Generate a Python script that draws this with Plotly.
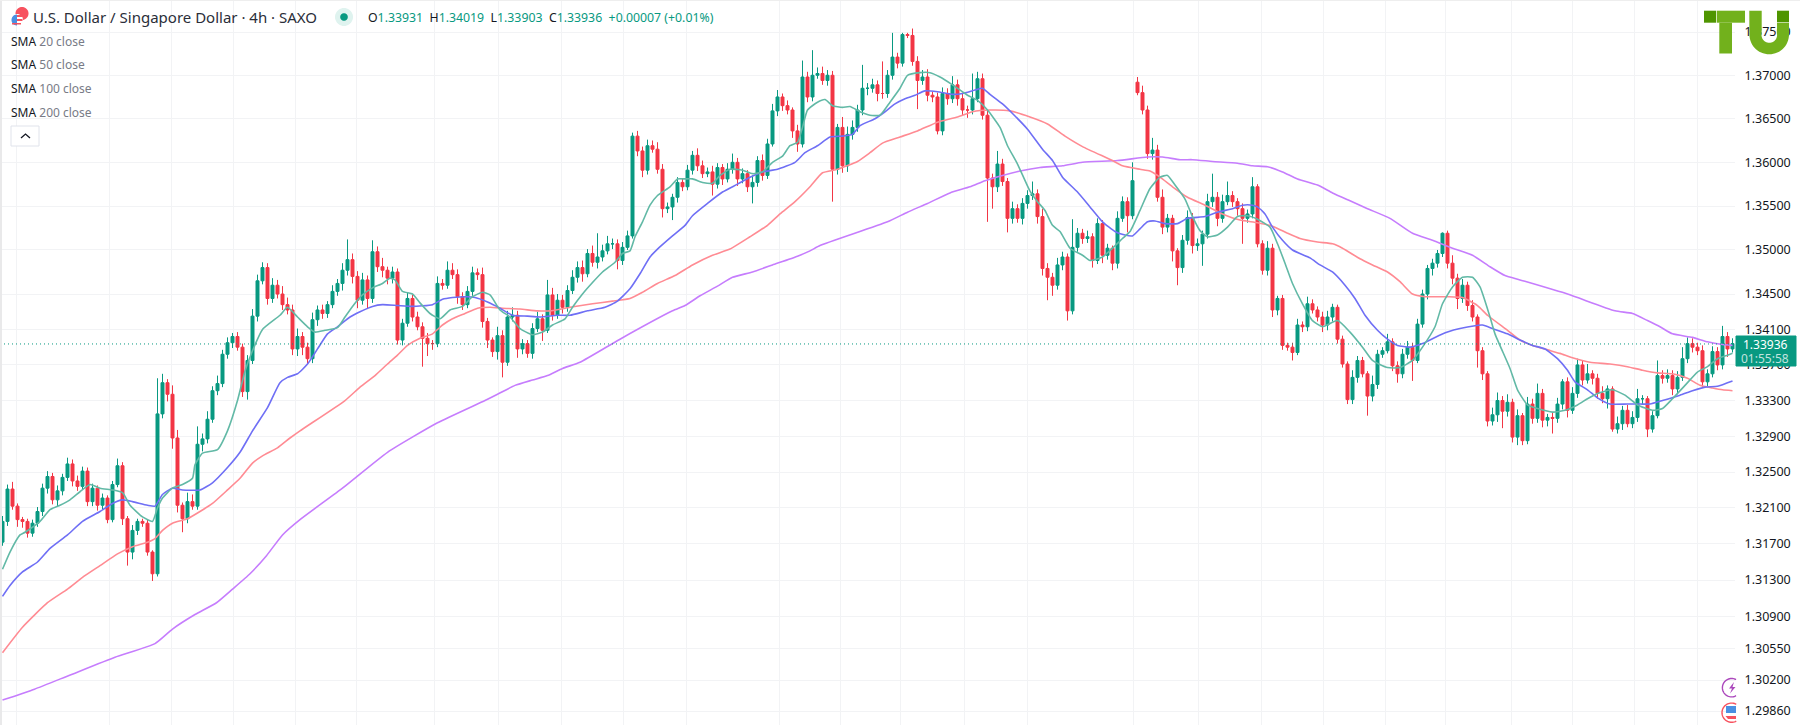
import plotly.graph_objects as go
import math

W, H, MR = 1800, 725, 65

# Closing prices, in 1/10000 price units
closes = [
13195,13231,13212,13197,13195,13182,13193,13206,13232,13245,
13219,13229,13244,13259,13240,13234,13251,13217,13232,13213,
13221,13197,13236,13257,13198,13161,13185,13195,13193,13161,
13137,13315,13350,13337,13288,13213,13198,13217,13212,13281,
13287,13309,13341,13349,13382,13395,13402,13390,13340,13375,
13425,13465,13480,13445,13460,13450,13438,13432,13388,13402,
13390,13377,13421,13432,13428,13438,13453,13462,13477,13489,
13470,13443,13466,13445,13498,13481,13477,13468,13475,13398,
13417,13445,13424,13413,13400,13394,13394,13462,13460,13477,
13472,13447,13438,13453,13474,13472,13419,13398,13385,13403,
13373,13424,13426,13388,13394,13383,13411,13422,13409,13449,
13426,13443,13435,13454,13469,13480,13473,13496,13486,13492,
13499,13507,13507,13488,13503,13516,13630,13613,13591,13619,
13615,13592,13547,13549,13560,13577,13572,13591,13608,13596,
13587,13589,13575,13594,13581,13592,13600,13581,13587,13572,
13577,13602,13585,13621,13659,13675,13665,13660,13636,13621,
13698,13675,13700,13702,13694,13700,13592,13640,13596,13632,
13640,13660,13685,13685,13689,13679,13679,13700,13721,13714,
13747,13746,13716,13694,13698,13677,13675,13636,13679,13673,
13689,13673,13660,13660,13673,13696,13654,13582,13572,13598,
13578,13536,13547,13536,13553,13562,13564,13538,13479,13469,
13460,13483,13492,13431,13503,13519,13513,13515,13488,13530,
13494,13502,13485,13536,13555,13539,13579,13680,13660,13610,
13614,13560,13526,13536,13499,13480,13511,13537,13505,13507,
13518,13555,13560,13536,13555,13562,13555,13547,13536,13541,
13572,13507,13477,13502,13432,13445,13392,13390,13384,13415,
13413,13439,13432,13424,13415,13424,13435,13399,13371,13331,
13356,13375,13360,13335,13348,13382,13386,13396,13369,13360,
13382,13390,13375,13416,13450,13479,13485,13496,13519,13485,
13468,13445,13460,13437,13424,13386,13360,13307,13314,13330,
13318,13328,13289,13313,13285,13326,13310,13338,13308,13311,
13310,13326,13351,13319,13338,13370,13353,13360,13355,13338,
13332,13343,13298,13304,13319,13304,13311,13332,13332,13298,
13313,13358,13355,13358,13343,13356,13377,13394,13390,13386,
13351,13360,13385,13370,13402,13388,13394]

# Upper wick lengths
up_wicks = [
6,5,8,3,3,3,4,5,5,6, 4,6,4,7,5,6,5,4,5,3, 5,3,4,8,4,3,6,3,3,4, 2,40,10,4,10,9,3,10,8,20,
6,9,5,9,5,6,4,5,4,6, 8,7,6,5,8,6,9,8,6,9, 5,5,8,5,6,4,7,5,8,23, 7,6,8,5,13,6,10,4,6,4,
5,7,4,6,5,6,4,8,5,10, 8,6,5,6,7,5,8,4,3,10, 6,7,9,5,5,4,6,8,5,17, 8,7,6,6,8,7,8,5,9,27,
7,9,6,5,6,6,4,6,5,7, 6,8,6,5,4,6,5,6,5,8, 6,5,7,5,4,7,10,5,6,4, 8,5,7,6,8,8,4,6,3,7,
19,6,29,7,8,6,5,4,12,9, 8,6,27,6,7,5,37,6,28,5, 2,2,8,6,8,9,4,5,7,6, 10,6,7,5,29,8,6,5,5,15,
6,4,8,5,6,6,14,5,9,6, 5,8,6,4,32,6,5,7,4,6, 4,5,3,8,6,5,21,6,8,5, 14,6,9,5,4,3,6,8,5,6,
4,9,27,6,8,16,5,4,6,5, 11,3,4,8,5,3,4,3,5,7, 4,8,5,4,6,7,4,3,4,3, 8,5,4,3,10,5,4,9,4,5,
6,7,5,6,5,4,5,4,1,3, 9,5,7,4,6,3,4,3,8,9, 5,9,4,7,3,8,6,11,5,4, 6,7,3,5,7,7,5,11,4,5,
8,4,3,8,5,6,7,11,4,3, 5,17,6,7,6,7,13,7,6,5, 6,5,6,5,12,5,6]

# Lower wick lengths
down_wicks = [
4,5,4,8,7,5,4,4,5,6, 5,7,5,4,6,5,4,5,5,6, 5,4,3,3,7,15,8,5,4,4, 8,3,5,8,12,8,15,5,4,4,
8,5,4,5,4,5,6,4,6,9, 4,6,4,7,5,5,6,5,7,8, 9,6,5,7,6,5,4,5,8,6, 8,9,5,12,5,6,8,7,6,5,
6,4,5,4,32,14,7,4,5,4, 5,8,6,4,5,6,7,9,6,9, 17,4,5,10,6,5,6,4,12,3, 6,4,7,5,4,6,9,4,5,7,
5,4,6,10,5,3,3,6,8,5, 4,5,10,5,15,6,5,4,5,6, 5,4,13,5,7,4,5,8,5,6, 19,5,6,4,3,6,6,5,8,9,
4,6,5,4,5,6,37,6,8,7, 6,5,6,8,5,9,6,5,5,6, 4,3,5,33,5,7,6,4,5,7, 5,8,6,9,5,4,5,50,25,6,
5,16,6,5,7,6,5,8,8,26, 12,5,6,11,4,5,6,5,8,4, 9,5,8,6,4,19,4,3,5,6, 7,5,8,6,12,20,6,5,9,6,
25,5,6,9,5,4,6,8,29,5, 5,4,5,6,8,6,5,4,9,3, 6,5,4,5,8,6,5,5,4,5, 5,6,4,22,6,5,4,3,6,10,
5,5,23,3,4,6,8,5,4,6, 7,12,5,6,5,19,7,6,5,8, 19,6,6,9,5,4,6,5,8,7, 17,5,6,8,4,5,6,4,7,6,
5,11,3,5,7,4,5,5,6,9, 4,3,6,5,7,6,4,5,6,5, 6,5,4,6,5,9,4]

first_open = 13172
gap_opens = {227: 13692}

sma20 = [(0,13142),(1.5,13161),(3.5,13180),(4.5,13183),(7.5,13195),(9.5,13208),(11.5,13213),(13.5,13219),(15.5,13228),(17.5,13236),(19.5,13232),(22,13230),(24,13227),(25.5,13213),(28,13200),(30,13195),(31,13210),(32,13221),(34,13232),(36,13236),(38,13243),(38.5,13258),(40,13271),(43,13275),(45,13296),(47,13330),(48.5,13363),(50,13386),(52,13410),(55.5,13426),(57,13435),(59,13424),(61,13413),(62.5,13407),(64.5,13409),(67,13412),(68.5,13424),(70,13436),(72,13449),(74,13457),(76,13462),(77.5,13468),(78.5,13466),(80,13453),(82,13450),(83.5,13440),(85.5,13428),(87.5,13422),(89.5,13432),(92,13436),(94,13447),(96,13452),(97.5,13449),(99.5,13432),(101.5,13424),(103.5,13411),(106,13404),(108,13407),(110,13415),(112.5,13422),(114,13435),(116,13450),(118,13463),(120,13475),(122.5,13486),(124,13496),(125.5,13499),(126.5,13515),(128,13532),(129.5,13551),(131,13562),(133.5,13572),(135,13581),(136.5,13581),(138,13581),(140,13577),(142,13576),(143.5,13585),(145.5,13592),(148,13591),(150,13587),(152,13589),(154,13600),(156,13607),(157.5,13619),(159,13623),(160,13640),(161,13660),(163,13669),(164.5,13672),(166,13665),(168,13663),(169.5,13664),(171.5,13658),(173.5,13654),(175.5,13654),(177.5,13669),(179.5,13685),(181,13700),(183.5,13703),(185.5,13703),(187.5,13698),(190,13689),(193,13677),(195,13671),(197,13660),(199.5,13640),(201,13619),(203,13598),(205.5,13567),(207,13555),(208.5,13545),(210,13528),(211.5,13521),(213.5,13502),(216,13494),(217.5,13488),(220,13492),(222,13502),(224,13513),(225.5,13521),(227.5,13545),(229.5,13570),(231.5,13583),(233,13585),(234.5,13574),(236.5,13558),(238,13538),(239.5,13522),(241,13515),(243,13517),(245,13526),(247,13538),(249,13539),(251,13535),(253.5,13526),(255,13507),(256.5,13485),(258,13462),(260,13439),(262,13420),(264,13413),(267,13420),(269.5,13407),(272,13390),(274,13375),(277,13367),(279.5,13367),(282,13375),(284,13390),(286.5,13413),(288,13439),(290,13458),(292,13469),(294,13469),(295.5,13458),(297.5,13424),(298.5,13405),(301.5,13366),(303,13342),(305,13325),(307,13321),(310,13317),(312.5,13319),(315,13325),(317,13332),(319,13338),(322,13342),(324.5,13336),(327,13325),(330,13319),(332,13321),(334,13332),(336.5,13347),(339,13362),(341,13368),(343,13377),(345,13381),(346,13383)]

sma50 = [(0,13112),(1.5,13124),(4,13139),(7,13150),(9.5,13165),(13,13180),(16,13195),(19.5,13206),(22,13215),(24,13219),(26,13217),(29,13213),(30.5,13212),(32,13225),(34,13232),(36,13230),(39.5,13230),(42,13238),(45,13255),(47.5,13272),(50,13296),(53,13322),(55.5,13350),(57,13356),(59,13360),(61,13371),(63,13388),(65,13405),(67,13413),(69.5,13424),(71.5,13430),(74,13436),(76,13438),(79,13437),(82,13436),(86,13438),(88,13444),(90,13446),(93,13447),(94.5,13446),(97,13441),(99.5,13434),(102,13426),(105,13425),(107.5,13424),(111,13426),(113.5,13426),(117,13431),(120.5,13435),(123,13442),(125.5,13456),(127.5,13473),(129.5,13492),(131,13501),(134,13516),(136.5,13528),(138,13539),(141,13553),(144,13566),(147,13575),(149.5,13583),(152,13589),(155,13592),(158.5,13600),(160.5,13611),(163,13619),(165.5,13629),(168,13630),(170,13632),(171.5,13642),(174.5,13650),(176.5,13658),(178.5,13667),(180.5,13673),(182.5,13677),(184.5,13682),(187,13681),(190,13678),(192,13679),(194.5,13683),(196,13685),(197.5,13678),(200,13667),(202,13656),(205,13638),(208,13615),(210,13602),(212,13583),(215,13566),(217.5,13549),(220,13532),(222.5,13521),(224.5,13517),(226,13516),(227.5,13524),(229,13532),(230.5,13533),(232.5,13530),(235,13530),(237,13536),(240.5,13538),(243,13543),(246,13547),(248,13551),(250,13551),(251,13549),(252.5,13541),(254,13526),(256,13511),(258,13500),(261.5,13491),(263.5,13483),(266,13475),(268.5,13460),(270.5,13445),(272.5,13426),(275,13409),(277,13399),(279,13392),(281.5,13390),(284,13394),(286.5,13401),(289,13407),(291.5,13411),(296,13415),(298,13411),(301,13405),(303.5,13398),(306,13392),(308.5,13388),(311,13377),(313,13364),(314.5,13351),(317,13342),(319,13333),(321.5,13326),(325,13326),(327.5,13326),(329.5,13326),(332,13330),(335.5,13336),(338,13341),(340.5,13345),(343,13346),(345,13350),(346,13352)]

sma100 = [(0,13050),(4,13078),(9,13105),(13,13120),(16,13133),(19.5,13146),(23,13159),(26,13167),(29,13172),(30.5,13176),(32,13185),(34,13193),(37,13198),(39.5,13206),(42,13215),(45,13230),(47.5,13243),(50,13260),(52,13268),(55,13277),(57.5,13288),(59.5,13296),(68.5,13330),(71.5,13345),(74.5,13358),(77,13371),(79,13381),(81,13392),(83.5,13400),(86,13405),(88,13415),(90,13422),(92.5,13428),(95,13434),(97.5,13435),(100,13434),(103.5,13433),(107,13431),(109.5,13431),(113.5,13435),(118,13439),(122,13442),(125.5,13445),(128,13452),(131,13462),(134.5,13471),(138,13483),(142,13494),(145.5,13501),(149.5,13515),(153,13528),(155.5,13541),(158.5,13555),(161.5,13572),(164,13588),(167,13592),(171,13601),(173.5,13611),(176,13622),(179.5,13629),(183,13636),(187,13646),(191,13652),(194,13658),(197.5,13660),(201.5,13659),(205.5,13652),(209,13644),(212.5,13630),(216,13618),(222,13602),(224,13596),(227.5,13592),(229.5,13590),(231.5,13583),(234,13572),(237,13560),(240.5,13551),(244,13541),(247.5,13534),(251,13531),(254,13527),(257,13519),(259.5,13513),(263,13509),(266,13507),(268,13502),(271.5,13490),(274,13483),(277,13475),(279.5,13464),(282,13450),(284.5,13447),(289,13447),(292,13446),(295,13437),(297,13426),(301,13409),(303.5,13398),(306,13392),(309,13387),(311.5,13383),(314,13378),(317.5,13373),(321.5,13371),(325,13368),(328,13364),(331,13361),(334,13360),(337,13355),(339.5,13347),(342,13344),(344,13342),(346,13341)]

sma200 = [(0,12998),(6.4,13010),(13.3,13025),(22.5,13045),(30.5,13060),(34,13076),(38.5,13092),(42.8,13105),(46,13120),(49.5,13137),(52.8,13157),(56,13180),(59.5,13197),(68,13232),(77,13272),(87,13305),(96.5,13330),(99,13337),(102.5,13347),(106,13353),(109,13358),(112,13366),(115.5,13373),(123.5,13399),(134,13431),(136.5,13437),(139.5,13448),(143,13459),(146,13469),(150,13475),(154,13483),(159,13493),(161.5,13499),(163.5,13505),(177,13532),(181,13543),(185,13553),(189.5,13565),(193.5,13572),(196.5,13579),(200,13585),(203.5,13590),(207.5,13594),(212,13596),(216,13600),(223,13602),(229,13606),(232,13606),(235.5,13603),(238,13603),(242,13601),(247,13599),(250,13596),(253,13595),(256,13589),(259,13581),(263,13574),(266,13565),(269.5,13556),(273,13547),(277.5,13536),(282,13519),(286,13511),(290,13502),(294,13494),(297.5,13481),(300.5,13471),(303.5,13466),(313,13450),(322.5,13431),(326,13428),(329,13420),(331.5,13413),(334,13405),(338,13401),(341,13396),(344,13393),(346,13392)]

sma_colors = {"20": "#62b9a6", "50": "#6f6ff5", "100": "#ff8b93", "200": "#c67dfd"}

tick_prices = [1.375,1.37,1.365,1.36,1.355,1.35,1.345,1.341,1.337,1.333,1.329,1.325,1.321,1.317,1.313,1.309,1.3055,1.302,1.2986]
tick_labels = ["1.37500","1.37000","1.36500","1.36000","1.35500","1.35000","1.34500","1.34100","1.33700","1.33300","1.32900","1.32500","1.32100","1.31700","1.31300","1.30900","1.30550","1.30200","1.29860"]
vgrid_positions = [2.7,21.3,33.7,46.1,58.5,70.7,86.3,99.1,111.7,124.1,136.7,155.3,167.5,179.5,192.3,204.9,226.1,239.1,251.7,264.1,276.5,288.5,301.7,313.9,326.3,338.9]
last_price = 1.33936
title_text = "U.S. Dollar / Singapore Dollar · 4h · SAXO"
ohlc_parts = [("O","1.33931"),("H","1.34019"),("L","1.33903"),("C","1.33936")]
ohlc_change = "+0.00007 (+0.01%)"
sma_labels = [("SMA","20 close"),("SMA","50 close"),("SMA","100 close"),("SMA","200 close")]
price_label = "1.33936"
countdown = "01:55:58"

UP, DOWN, DARK, GREY = "#089981", "#f23645", "#131722", "#787b86"
n = min(len(closes), len(up_wicks), len(down_wicks))
xs = list(range(n))
opens = [first_open] + closes[:n-1]
for k, v in gap_opens.items():
    opens[k] = v
o = [v/1e4 for v in opens]
c = [v/1e4 for v in closes[:n]]
h = [(max(opens[i], closes[i]) + up_wicks[i])/1e4 for i in xs]
l = [(min(opens[i], closes[i]) - down_wicks[i])/1e4 for i in xs]

fig = go.Figure()
fig.add_trace(go.Candlestick(x=xs, open=o, high=h, low=l, close=c,
    increasing=dict(line=dict(color=UP, width=1), fillcolor=UP),
    decreasing=dict(line=dict(color=DOWN, width=1), fillcolor=DOWN),
    whiskerwidth=0, hoverinfo="skip", showlegend=False))
for name, pts in [("200", sma200), ("100", sma100), ("50", sma50), ("20", sma20)]:
    pts = sorted(pts)
    fig.add_trace(go.Scatter(x=[p[0] for p in pts], y=[p[1]/1e4 for p in pts], mode="lines",
        line=dict(color=sma_colors[name], width=1.6, shape="spline", smoothing=0.5),
        hoverinfo="skip", showlegend=False))
fig.add_trace(go.Scatter(x=[-0.5, n-0.5], y=[last_price, last_price], mode="lines",
    line=dict(color=UP, width=1, dash="1px 3px"), hoverinfo="skip", showlegend=False))

def px(x): return x/(W-MR)
def py(y): return 1-y/H
def rect(x0,y0,x1,y1,fill,line="rgba(0,0,0,0)",lw=0):
    return dict(type="rect",xref="paper",yref="paper",x0=px(x0),x1=px(x1),y0=py(y0),y1=py(y1),
                fillcolor=fill,line=dict(color=line,width=lw),layer="above")
def poly(points,fill=None,line=None,lw=1,close=True):
    d="M"+" L".join(f"{px(a):.5f},{py(b):.5f}" for a,b in points)+(" Z" if close else "")
    return dict(type="path",xref="paper",yref="paper",path=d,fillcolor=fill or "rgba(0,0,0,0)",
                line=dict(color=line or "rgba(0,0,0,0)",width=lw),layer="above")
def arc(cx,cy,r,a0,a1,steps=40):
    return [(cx+r*math.cos(math.radians(a0+(a1-a0)*t/steps)),cy+r*math.sin(math.radians(a0+(a1-a0)*t/steps))) for t in range(steps+1)]

G, GD = "#72b11c", "#4f9500"
shapes = [
    rect(0,0,2,725,"#e9e9ea"),
    rect(0,0,1800,1,"#eeeeee"),
    # flag icon in header
    poly(arc(22,13.5,6.5,0,360),fill="#f7525f"),
    poly(arc(17,20,6,0,360),fill="white"),
    poly(arc(17,20,5.5,90,270),fill="#4a90e2"),
    rect(17,15,22.5,17,"#f7525f"),
    rect(17,19,22.5,21,"#f7525f"),
    rect(12,23,21,24.5,"#f7525f"),
    # collapse button
    dict(type="rect",xref="paper",yref="paper",x0=px(11),x1=px(39),y0=py(126),y1=py(146),
         fillcolor="white",line=dict(color="#e0e3eb",width=1),layer="above"),
    poly([(21,138),(25.5,134),(30,138)],line="#131722",lw=1.3,close=False),
    # status dot
    poly(arc(344,17,9,0,360),fill="#dff3ef"),
    poly(arc(344,17,3.8,0,360),fill=UP),
    # logo
    rect(1704,10.7,1716,22.7,GD),
    rect(1716.7,10.7,1745,22.7,G),
    rect(1719.3,22.7,1732,53.5,G),
    poly([(1749.3,10.7),(1761.7,10.7),(1761.7,30)]+arc(1769.3,35,7.8,180,0,24)[::-1][::-1]+
         [(1777,22.7),(1789,22.7)]+arc(1769.2,34.5,19.8,0,180,30),fill=G),
    rect(1777,10.7,1789,22.2,GD),
    # price label
    dict(type="rect",xref="paper",yref="paper",x0=px(1736),x1=px(1796),y0=py(336),y1=py(366),
         fillcolor=UP,line=dict(color=UP,width=1),layer="above"),
    # corner icons
    poly(arc(1731.6,687.7,9.2,61,299),line="#ab47bc",lw=1.4,close=False),
    poly([(1734,682),(1729,688.5),(1732,688.5),(1730,693.5),(1735.5,687),(1732.5,687)],fill="#ab47bc"),
    poly(arc(1731.6,712.7,9.6,61,299),line="#f7525f",lw=1.4,close=False),
    poly([(1736,706),(1726,706),(1726,713),(1736,713)],fill="#4a90e2"),
    poly([(1736,716),(1725.5,716),(1728,719),(1736,719)],fill="#f7525f"),
]

FONT = "Noto Sans"
def note(x,y,text,size=12,color=DARK,anchor="left"):
    return dict(xref="paper",yref="paper",x=px(x),y=py(y),text=text,showarrow=False,xanchor=anchor,yanchor="middle",
                font=dict(size=size,color=color,family=FONT),align=anchor)
annots = [note(31,17,title_text,size=15,color="#2a2e39")]
ohlc_html = "  ".join(f'<span style="color:{DARK}">{a}</span><span style="color:{UP}">{b}</span>' for a,b in ohlc_parts)
ohlc_html += f'  <span style="color:{UP}">{ohlc_change}</span>'
annots.append(note(366,17,ohlc_html,size=12.3))
for k,(a,b) in enumerate(sma_labels):
    annots.append(note(9,41+k*23.8,f'<span style="color:{DARK}">{a}</span> <span style="color:{GREY}">{b}</span>',size=12))
annots.append(note(1765,344,price_label,size=12,color="white",anchor="center"))
annots.append(note(1765,358.5,countdown,size=12,color="rgba(255,255,255,0.75)",anchor="center"))

top = 1.375*math.exp(32/11879)
bot = 1.375*math.exp(-(H-32)/11879)
fig.update_layout(
    width=W,height=H,margin=dict(l=0,r=MR,t=0,b=0),autosize=False,
    paper_bgcolor="white",plot_bgcolor="white",boxgap=0.15,
    showlegend=False,shapes=shapes,annotations=annots,
    xaxis=dict(range=[-0.5,n-0.5],tickmode="array",tickvals=vgrid_positions,showticklabels=False,ticks="",
               showgrid=True,gridcolor="#f2f3f5",gridwidth=1,zeroline=False,showline=False,
               rangeslider=dict(visible=False),fixedrange=True),
    yaxis=dict(type="log",side="right",range=[math.log10(bot),math.log10(top)],tickmode="array",
               tickvals=tick_prices,ticktext=tick_labels,ticks="outside",ticklen=6,tickcolor="white",
               tickfont=dict(size=12.5,color=DARK,family=FONT),showgrid=True,gridcolor="#f2f3f5",gridwidth=1,
               zeroline=False,showline=False,fixedrange=True),
)
fig.write_html("out.html",config=dict(displayModeBar=False),
    post_script="document.body.style.margin='0';document.body.style.overflow='hidden';")
